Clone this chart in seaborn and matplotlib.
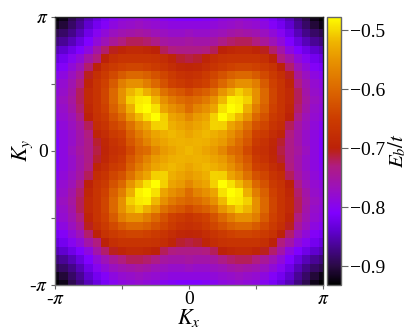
import numpy as np
import seaborn as sns
import matplotlib.pyplot as plt
from matplotlib.colors import LinearSegmentedColormap

# upper left quadrant of the map (rest is its mirror image)
row_00 = [-.93,-.92,-.895,-.875,-.85,-.83,-.815,-.80,-.79,-.785,-.78,-.785,-.79,-.80,-.805,-.81,-.81]
row_01 = [-.92,-.905,-.885,-.865,-.84,-.82,-.805,-.79,-.78,-.775,-.77,-.775,-.78,-.785,-.79,-.79,-.79]
row_02 = [-.895,-.885,-.87,-.85,-.825,-.80,-.785,-.77,-.76,-.755,-.75,-.755,-.765,-.77,-.775,-.775,-.77]
row_03 = [-.875,-.865,-.85,-.83,-.81,-.785,-.765,-.745,-.73,-.72,-.72,-.725,-.735,-.75,-.755,-.755,-.75]
row_04 = [-.85,-.84,-.825,-.81,-.79,-.755,-.725,-.705,-.695,-.685,-.685,-.69,-.70,-.72,-.73,-.735,-.735]
row_05 = [-.83,-.82,-.80,-.785,-.755,-.73,-.70,-.675,-.665,-.665,-.665,-.665,-.67,-.68,-.695,-.71,-.715]
row_06 = [-.815,-.805,-.785,-.765,-.725,-.70,-.67,-.655,-.645,-.64,-.64,-.645,-.655,-.665,-.68,-.69,-.695]
row_07 = [-.80,-.79,-.77,-.745,-.705,-.675,-.655,-.635,-.615,-.60,-.60,-.61,-.625,-.64,-.655,-.67,-.675]
row_08 = [-.79,-.78,-.76,-.73,-.695,-.665,-.645,-.615,-.575,-.555,-.555,-.575,-.60,-.625,-.645,-.655,-.665]
row_09 = [-.785,-.775,-.755,-.72,-.685,-.665,-.64,-.60,-.555,-.52,-.505,-.525,-.55,-.59,-.61,-.62,-.635]
row_10 = [-.78,-.77,-.75,-.72,-.685,-.665,-.64,-.60,-.555,-.505,-.49,-.485,-.518,-.555,-.58,-.595,-.605]
row_11 = [-.785,-.775,-.755,-.725,-.69,-.665,-.645,-.61,-.575,-.525,-.485,-.477,-.495,-.535,-.555,-.57,-.595]
row_12 = [-.79,-.78,-.765,-.735,-.70,-.67,-.655,-.625,-.60,-.55,-.518,-.495,-.477,-.505,-.535,-.545,-.565]
row_13 = [-.80,-.785,-.77,-.75,-.72,-.68,-.665,-.64,-.625,-.59,-.555,-.535,-.505,-.503,-.525,-.535,-.545]
row_14 = [-.805,-.79,-.775,-.755,-.73,-.695,-.68,-.655,-.645,-.61,-.58,-.555,-.535,-.525,-.518,-.525,-.535]
row_15 = [-.81,-.79,-.775,-.755,-.735,-.71,-.69,-.67,-.655,-.62,-.595,-.57,-.545,-.535,-.525,-.522,-.525]
row_16 = [-.81,-.79,-.77,-.75,-.735,-.715,-.695,-.675,-.665,-.635,-.605,-.595,-.565,-.545,-.535,-.525,-.518]

x_tick_labels = ['-$\\pi$', '', '0', '', '$\\pi$']
y_tick_labels = ['$\\pi$', '', '0', '', '-$\\pi$']
cbar_ticks = [-0.5, -0.6, -0.7, -0.8, -0.9]

v_min = -0.931
v_max = -0.477
cmap_values = [-0.931, -0.90, -0.84, -0.81, -0.77, -0.73, -0.70, -0.65, -0.60, -0.55, -0.52, -0.50, -0.477]
cmap_colors = ['#000000', '#2a0a45', '#6000d0', '#8000ff', '#9a10c0', '#b01c80', '#bc2208',
               '#cc3c00', '#dc6800', '#e89400', '#efb400', '#f5d800', '#ffff00']

quadrant = np.array([row_00, row_01, row_02, row_03, row_04, row_05, row_06, row_07, row_08,
                     row_09, row_10, row_11, row_12, row_13, row_14, row_15, row_16])
top = np.hstack([quadrant, quadrant[:, -2::-1]])
energy = np.vstack([top, top[-2::-1]])

stops = [(v - v_min) / (v_max - v_min) for v in cmap_values]
cmap = LinearSegmentedColormap.from_list('eb', list(zip(stops, cmap_colors)), N=512)

plt.rcParams['font.family'] = ['Liberation Serif', 'DejaVu Serif']
plt.rcParams['mathtext.fontset'] = 'stix'

W, H = 416, 335
fig = plt.figure(figsize=(W / 100, H / 100), dpi=100)
ax = fig.add_axes([55 / W, 1 - 284.5 / H, 268 / W, 268 / H])
cax = fig.add_axes([326.5 / W, 1 - 284.5 / H, 14.5 / W, 268 / H])

# no drawn grid: the faint seams come from antialiased cell edges
sns.heatmap(energy, ax=ax, cbar_ax=cax, cmap=cmap, vmin=v_min, vmax=v_max, square=False,
            linewidths=0, antialiased=True, xticklabels=False, yticklabels=False,
            cbar_kws={'ticks': cbar_ticks})

# the outer cells are cut in half at +-pi
ax.set_xlim(0.5, 32.5)
ax.set_ylim(32.5, 0.5)
ax.set_xticks([0.5, 8.5, 16.5, 24.5, 32.5])
ax.set_xticklabels(x_tick_labels, fontsize=14)
ax.set_yticks([0.5, 8.5, 16.5, 24.5, 32.5])
ax.set_yticklabels(y_tick_labels, fontsize=14, rotation=0)
ax.tick_params(length=3, width=0.8, color='#666666', pad=2)
ax.set_xlabel('$K_x$', fontsize=16, labelpad=-1)
ax.set_ylabel('$K_y$', fontsize=16, labelpad=-4)

for name, spine in ax.spines.items():
    spine.set_visible(True)
    spine.set_linewidth(1.0)
    spine.set_color('#222222' if name in ('top', 'right') else '#777777')

cbar = ax.collections[0].colorbar
cbar.ax.set_yticklabels(['\u22120.5', '\u22120.6', '\u22120.7', '\u22120.8', '\u22120.9'])
cbar.ax.tick_params(labelsize=14, length=5, width=0.8, color='#666666', pad=1.5)
cbar.set_label('$E_b/t$', fontsize=15, labelpad=1)
cbar.outline.set_visible(True)
cbar.outline.set_edgecolor('#666666')
cbar.outline.set_linewidth(1.0)

plt.savefig('out.png', dpi=100)
